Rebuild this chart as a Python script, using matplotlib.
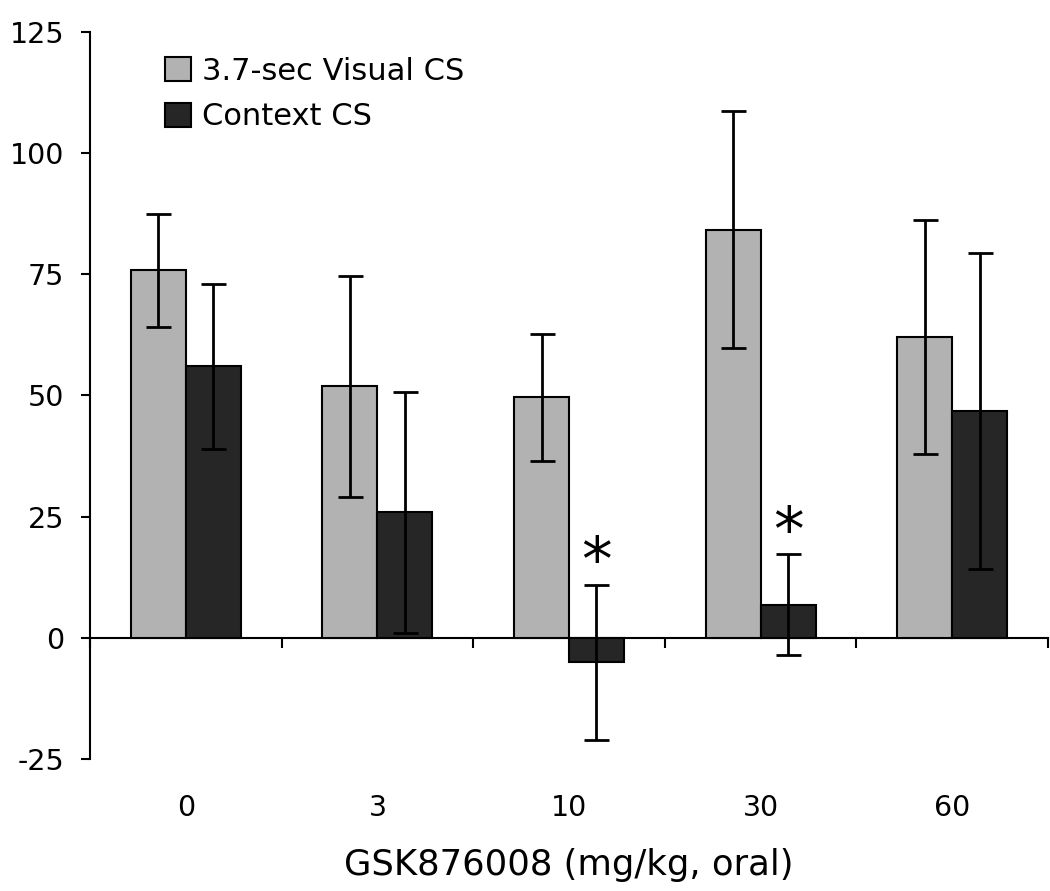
import matplotlib
matplotlib.use('Agg')
from matplotlib import pyplot as plt
import numpy as np

# данные
doses = ['0', '3', '10', '30', '60']
visual = [75.8, 51.9, 49.6, 84.2, 62.1]
visual_sem = [11.7, 22.8, 13.1, 24.5, 24.2]
context = [56.0, 25.9, -5.0, 6.8, 46.8]
context_sem = [17.1, 24.8, 16.0, 10.4, 32.5]
signif = [False, False, True, True, False]

plt.rcParams['font.family'] = 'DejaVu Sans'
plt.rcParams['axes.unicode_minus'] = False

fig = plt.figure(figsize=(10.5, 8.91), dpi=100)
ax = fig.add_axes([90/1050, 1 - 759/891, (1048 - 90)/1050, (759 - 32)/891])

x = np.arange(len(doses))
w = 0.287
err_kw = dict(elinewidth=2, capsize=9, capthick=2, ecolor='black')
ax.bar(x - w/2, visual, w, yerr=visual_sem, color='#b2b2b2', edgecolor='black',
       linewidth=1.5, error_kw=err_kw, label='3.7-sec Visual CS', zorder=2)
ax.bar(x + w/2, context, w, yerr=context_sem, color='#262626', edgecolor='black',
       linewidth=1.5, error_kw=err_kw, label='Context CS', zorder=2)

for i in range(len(doses)):
    if signif[i]:
        ax.text(x[i] + w/2, context[i] + context_sem[i] + 1.0, '*', ha='center',
                va='baseline', fontsize=44)

ax.set_xlim(-0.5, 4.5)
ax.set_ylim(-25, 125)
ax.set_yticks(np.arange(-25, 126, 25))
ax.tick_params(axis='y', direction='out', length=6.5, width=1.5, labelsize=20.5, pad=12)

# подписи категорий снизу, без штрихов
ax.set_xticks(x)
ax.set_xticklabels(doses)
ax.tick_params(axis='x', length=0, labelsize=20.5, pad=25)
ax.set_xlabel('GSK876008 (mg/kg, oral)', fontsize=25.5, labelpad=19)

for s in ['top', 'right', 'bottom']:
    ax.spines[s].set_visible(False)
ax.spines['left'].set_linewidth(1.5)

# линия нуля со штрихами между группами
zero_ax = ax.secondary_xaxis(25/150)
zero_ax.set_xticks(np.arange(-0.5, 4.6, 1))
zero_ax.set_xticklabels([])
zero_ax.tick_params(direction='out', length=7, width=1.5)
zero_ax.spines['bottom'].set_linewidth(1.5)

ax.legend(loc='upper left', bbox_to_anchor=(0.066, 0.983), frameon=False, fontsize=22,
          handlelength=0.85, handleheight=0.85, handletextpad=0.35, labelspacing=0.55,
          borderaxespad=0)

fig.savefig('out.png', dpi=100)
